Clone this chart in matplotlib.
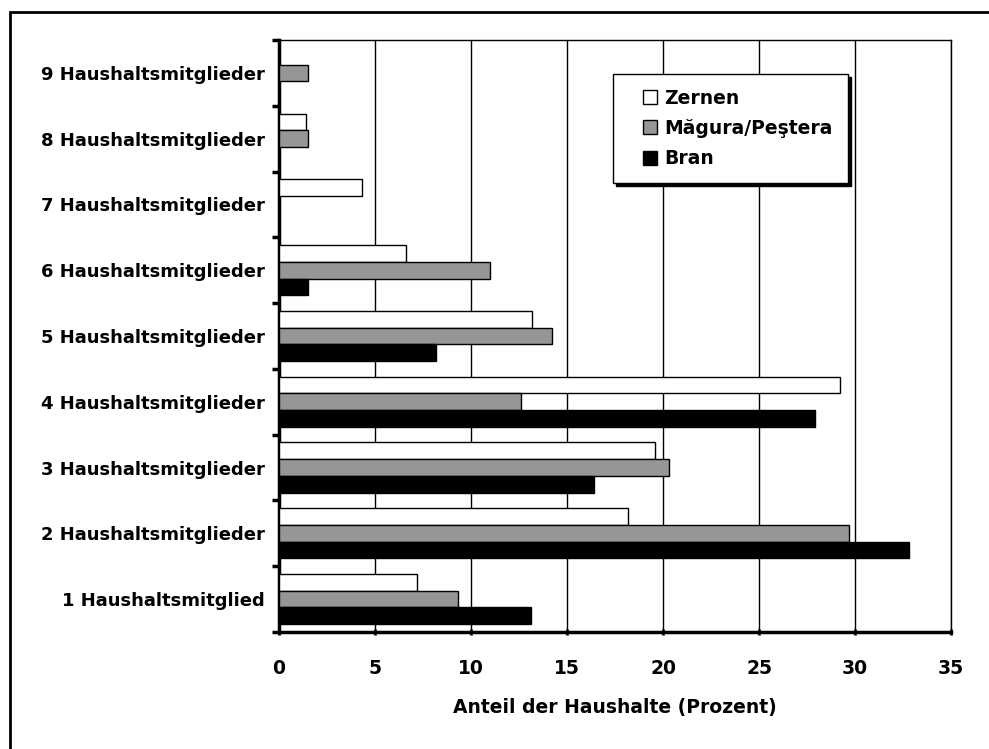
"""
Haushaltsgroesse in Zernen, Magura/Pestera und Bran.
"""

import numpy as np
import matplotlib.pyplot as plt
from matplotlib.lines import Line2D
from matplotlib.patches import Rectangle

categories = [
    "1 Haushaltsmitglied",
    "2 Haushaltsmitglieder",
    "3 Haushaltsmitglieder",
    "4 Haushaltsmitglieder",
    "5 Haushaltsmitglieder",
    "6 Haushaltsmitglieder",
    "7 Haushaltsmitglieder",
    "8 Haushaltsmitglieder",
    "9 Haushaltsmitglieder",
]
zernen = [7.2, 18.2, 19.6, 29.2, 13.2, 6.6, 4.3, 1.4, 0]
magura = [9.3, 29.7, 20.3, 12.6, 14.2, 11.0, 0, 1.5, 1.5]
bran = [13.1, 32.8, 16.4, 27.9, 8.2, 1.5, 0, 0, 0]

series = [
    ("Zernen", zernen, "white"),
    ("M\u0103gura/Pe\u015ftera", magura, "#969696"),
    ("Bran", bran, "black"),
]

plt.rcParams["font.family"] = "DejaVu Sans"
plt.rcParams["font.weight"] = "bold"

fig = plt.figure(figsize=(9.89, 7.49), dpi=100)
ax = fig.add_axes([279 / 989, 1 - 632 / 749, 672 / 989, 592 / 749])

y = np.arange(len(categories))
h = 0.255
for i, (name, vals, color) in enumerate(series):
    ax.barh(y + (1 - i) * h, vals, height=h, color=color,
            edgecolor="black", linewidth=1.0, zorder=3)

ax.set_xlim(0, 35)
ax.set_ylim(-0.5, len(categories) - 0.5)
ax.set_xticks(range(0, 36, 5))
ax.xaxis.grid(True, color="black", linewidth=1.0, zorder=0)

# y ticks at category boundaries, labels at centres
ax.set_yticks(np.arange(-0.5, len(categories), 1.0))
ax.set_yticklabels([])
ax.set_yticks(y, minor=True)
ax.set_yticklabels(categories, minor=True, fontsize=13, fontweight="bold")
ax.tick_params(axis="y", which="minor", length=0, pad=10)
ax.tick_params(axis="y", which="major", length=5, width=2.5, direction="out")
ax.tick_params(axis="x", length=5, width=2, direction="inout", labelsize=13.5, pad=17)
for lbl in ax.get_xticklabels():
    lbl.set_fontweight("bold")

for side in ("left", "bottom"):
    ax.spines[side].set_linewidth(2.5)
for side in ("top", "right"):
    ax.spines[side].set_linewidth(1.0)

ax.set_xlabel("Anteil der Haushalte (Prozent)", fontsize=13.5, fontweight="bold", labelpad=14)

handles = [Line2D([], [], linestyle="none", marker="s", markersize=9.5,
                  markerfacecolor=color, markeredgecolor="black", markeredgewidth=1.0)
           for _, _, color in series]
labels = [name for name, _, _ in series]
leg = ax.legend(handles, labels, loc="upper left", bbox_to_anchor=(0.497, 0.943),
                frameon=True, fancybox=False, edgecolor="black", framealpha=1,
                shadow={"color": "black", "alpha": 1},
                prop={"size": 13.5, "weight": "bold"},
                handlelength=2.4, handletextpad=-0.45,
                labelspacing=0.6, borderpad=0.8, borderaxespad=0)
leg.get_frame().set_linewidth(1.0)
leg.set_zorder(5)

# outer frame of the chart area
fig.patches.append(Rectangle((10 / 989, -0.1), 1.2, 1.1 - 12 / 749, transform=fig.transFigure,
                             fill=False, edgecolor="black", linewidth=2.0))

fig.savefig("out.png", dpi=100)
